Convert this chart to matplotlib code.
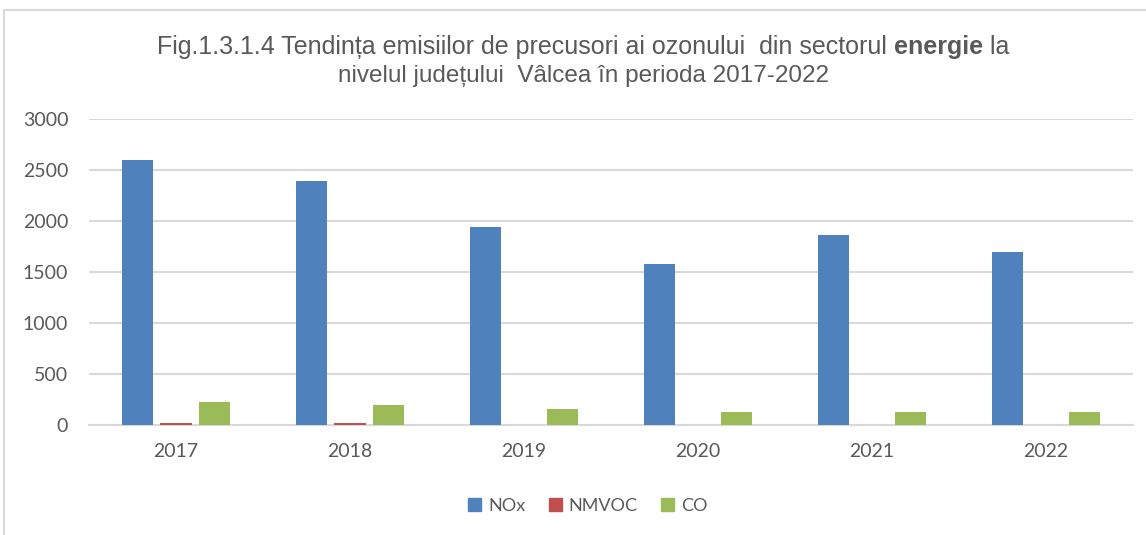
import numpy as np
import matplotlib
matplotlib.use("Agg")
import matplotlib.pyplot as plt
from matplotlib.patches import Rectangle, Patch

# data
years = ["2017", "2018", "2019", "2020", "2021", "2022"]
nox = [2600, 2395, 1943, 1580, 1864, 1698]
nmvoc = [20, 18, 4, 4, 4, 4]
co = [226, 196, 157, 128, 128, 128]
series_names = ["NOx", "NMVOC", "CO"]
colors = ["#4f81bd", "#c0504d", "#9bbb59"]
yticks = [0, 500, 1000, 1500, 2000, 2500, 3000]

txt_color = "#595959"
grid_color = "#d9d9d9"

fig = plt.figure(figsize=(11.46, 5.35), dpi=100)
# chart frame
fig.patches.append(Rectangle((4 / 1146, -0.1), 1.2, 1.1 - 10 / 535, transform=fig.transFigure,
                             fill=False, edgecolor=grid_color, linewidth=1.5))

ax = fig.add_axes([89 / 1146, 1 - 425 / 535, 1044 / 1146, 306 / 535])

x = np.arange(len(years))
width = 0.18
offsets = [-0.22, 0.0, 0.22]
for vals, name, col, off in zip([nox, nmvoc, co], series_names, colors, offsets):
    ax.bar(x + off, vals, width, color=col, label=name, zorder=3)

ax.set_xlim(-0.5, len(years) - 0.5)
ax.set_ylim(0, 3000)
ax.set_yticks(yticks)
ax.set_xticks(x)
ax.set_xticklabels(years)
ax.yaxis.grid(True, color=grid_color, linewidth=1.5, zorder=0)
for s in ["top", "right", "left"]:
    ax.spines[s].set_visible(False)
ax.spines["bottom"].set_color(grid_color)
ax.spines["bottom"].set_linewidth(1.5)
ax.tick_params(axis="both", length=0, colors=txt_color, labelsize=14)
ax.tick_params(axis="x", pad=13)
ax.tick_params(axis="y", pad=15)
for lab in ax.get_xticklabels() + ax.get_yticklabels():
    lab.set_family("Lato")

# title with one bold word
tfont = ["Liberation Sans", "DejaVu Sans"]
parts = [("Fig.1.3.1.4 Tendința emisiilor de precusori ai ozonului  din sectorul ", "normal"),
         ("energie", "bold"), (" la", "normal")]
fig.canvas.draw()
r = fig.canvas.get_renderer()
texts = []
for s, w in parts:
    t = fig.text(0, 1 - 47 / 535, s, fontsize=18, color=txt_color, family=tfont,
                 fontweight=w, va="center", ha="left")
    texts.append(t)
widths = [t.get_window_extent(r).width for t in texts]
start = 583 - sum(widths) / 2
for t, w in zip(texts, widths):
    t.set_x(start / 1146)
    start += w
fig.text(584 / 1146, 1 - 76 / 535, "nivelul județului  Vâlcea în perioda 2017-2022", fontsize=17.5,
         color=txt_color, family=tfont, va="center", ha="center")

handles = [Patch(color=c, label=n) for c, n in zip(colors, series_names)]
leg = fig.legend(handles=handles, loc="center", bbox_to_anchor=(588 / 1146, 1 - 506 / 535),
                 ncol=3, frameon=False, handlelength=0.7, handleheight=0.7,
                 handletextpad=0.4, columnspacing=1.3,
                 prop={"family": "Lato", "size": 13})
for t in leg.get_texts():
    t.set_color(txt_color)

fig.savefig("out.png", dpi=100)
